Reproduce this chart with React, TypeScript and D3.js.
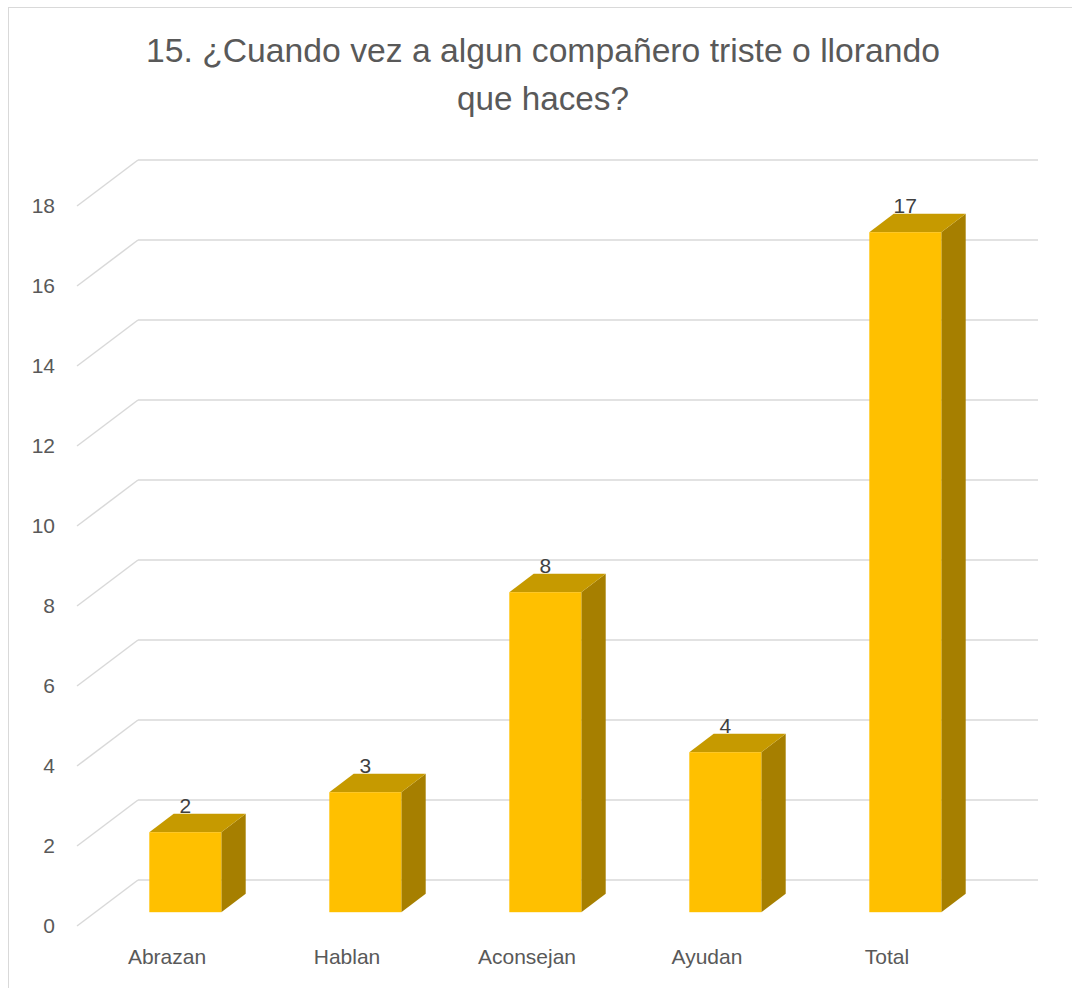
import React from "react";
import * as d3 from "d3";

const categories = ["Abrazan", "Hablan", "Aconsejan", "Ayudan", "Total"];
const values = [2, 3, 8, 4, 17];
const yTicks = [0, 2, 4, 6, 8, 10, 12, 14, 16, 18];
const titleLines = ["15. ¿Cuando vez a algun compañero triste o llorando", "que haces?"];

const W = 1072;
const H = 988;
const FONT = "'Liberation Sans', Arial, sans-serif";
const TEXT = "#595959";
const GRID = "#D9D9D9";

// depth vector from front plane to back wall
const DX = 61;
const DY = -46;
const BAR_FRONT = 0.3;
const BAR_BACK = 0.7;

export default function App() {
  const x = d3
    .scaleBand<string>()
    .domain(categories)
    .range([77, 977])
    .paddingInner(0.6)
    .paddingOuter(0.3);
  const xCat = d3.scaleBand<string>().domain(categories).range([77, 977]).padding(0);
  const y = d3.scaleLinear().domain([0, 18]).range([926, 206]);

  const fx = BAR_FRONT * DX;
  const fy = BAR_FRONT * DY;
  const ddx = (BAR_BACK - BAR_FRONT) * DX;
  const ddy = (BAR_BACK - BAR_FRONT) * DY;

  return (
    <svg width={W} height={H} style={{ position: "absolute", left: 0, top: 0, display: "block" }}>
      <rect x={0} y={0} width={W} height={H} fill="#fff" />
      <rect x={8.5} y={7.5} width={1100} height={1100} fill="#fff" stroke="#D9D9D9" strokeWidth={1} />
      {titleLines.map((t, i) => (
        <text
          key={i}
          x={543}
          y={62 + i * 48}
          textAnchor="middle"
          fontFamily={FONT}
          fontSize={33}
          fill={TEXT}
          textLength={i === 0 ? 794 : 172}
          lengthAdjust="spacingAndGlyphs"
        >
          {t}
        </text>
      ))}
      {/* gridlines */}
      {yTicks.map((v) => (
        <g key={v}>
          <line x1={77} y1={y(v)} x2={77 + DX} y2={y(v) + DY} stroke={GRID} strokeWidth={1.5} />
          <line x1={77 + DX} y1={y(v) + DY} x2={977 + DX} y2={y(v) + DY} stroke={GRID} strokeWidth={1.5} />
        </g>
      ))}
      {/* y tick labels */}
      {yTicks.map((v) => (
        <text
          key={"t" + v}
          x={55}
          y={y(v) + 7}
          textAnchor="end"
          fontFamily={FONT}
          fontSize={21}
          fill={TEXT}
        >
          {v}
        </text>
      ))}
      {/* bars */}
      {categories.map((c, i) => {
        const x0 = (x(c) as number) + fx;
        const x1 = x0 + x.bandwidth();
        const yb = y(0) + fy;
        const yt = y(values[i]) + fy;
        const top = `M${x0},${yt} L${x1},${yt} L${x1 + ddx},${yt + ddy} L${x0 + ddx},${yt + ddy} Z`;
        const side = `M${x1},${yt} L${x1 + ddx},${yt + ddy} L${x1 + ddx},${yb + ddy} L${x1},${yb} Z`;
        return (
          <g key={c}>
            <path d={side} fill="#A67F00" />
            <path d={top} fill="#C69A00" />
            <rect x={x0} y={yt} width={x1 - x0} height={yb - yt} fill="#FFC000" />
            <text
              x={(x0 + x1) / 2}
              y={yt + ddy - 1}
              textAnchor="middle"
              fontFamily={FONT}
              fontSize={21}
              fill="#404040"
            >
              {values[i]}
            </text>
          </g>
        );
      })}
      {/* category labels */}
      {categories.map((c) => (
        <text
          key={"c" + c}
          x={(xCat(c) as number) + xCat.bandwidth() / 2}
          y={964}
          textAnchor="middle"
          fontFamily={FONT}
          fontSize={21}
          fill={TEXT}
        >
          {c}
        </text>
      ))}
    </svg>
  );
}
